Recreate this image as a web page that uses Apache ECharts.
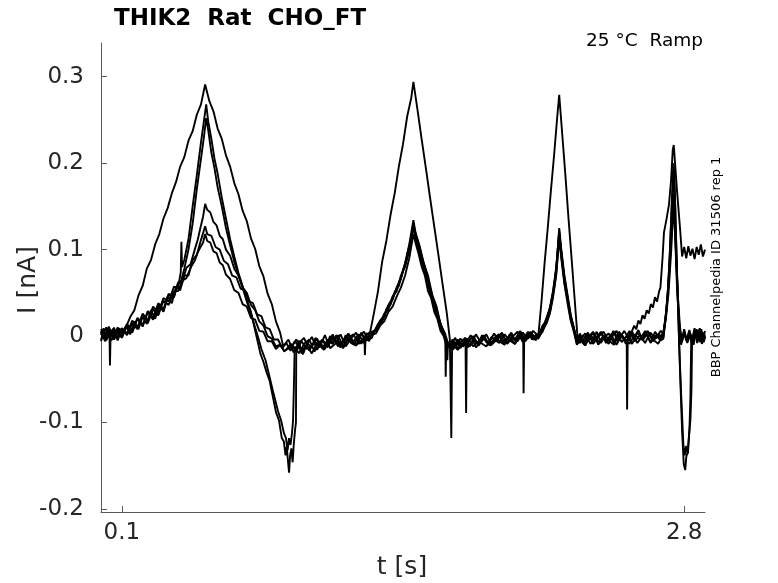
<!DOCTYPE html>
<html><head><meta charset="utf-8">
<script src="https://cdn.jsdelivr.net/npm/echarts@6/dist/echarts.min.js"></script>
<style>html,body{margin:0;padding:0;background:#fff}#c{width:778px;height:583px}</style>
</head><body><div id="c"></div>
<script>
const xTicks = [0.1, 2.8];
const yTicks = [-0.2, -0.1, 0, 0.1, 0.2, 0.3];
const titleText = 'THIK2  Rat  CHO_FT';
const condText = '25 °C  Ramp';
const idText = 'BBP Channelpedia ID 31506 rep 1';

// [t (s), I (nA)] per sweep
const sweep1 = [[0,0.001],[0.0125,0.009],[0.025,-0.004],[0.0375,0.006],[0.05,0.0],[0.0625,0.01],[0.075,-0.003],[0.0875,0.005],[0.1,0.002],[0.12,0.01],[0.14,0.022],[0.16,0.03],[0.18,0.047],[0.2,0.058],[0.22,0.078],[0.24,0.088],[0.26,0.106],[0.28,0.118],[0.3,0.136],[0.32,0.148],[0.34,0.165],[0.36,0.178],[0.38,0.196],[0.4,0.207],[0.42,0.226],[0.44,0.237],[0.46,0.256],[0.48,0.268],[0.5,0.291],[0.52,0.272],[0.54,0.26],[0.56,0.24],[0.58,0.228],[0.6,0.209],[0.62,0.196],[0.64,0.177],[0.66,0.164],[0.68,0.145],[0.7,0.133],[0.72,0.113],[0.74,0.101],[0.76,0.081],[0.78,0.069],[0.8,0.049],[0.82,0.037],[0.84,0.017],[0.86,0.004],[0.875,-0.012],[0.9,-0.004],[0.925,-0.019],[0.95,-0.008],[0.975,-0.002],[1.0,-0.017],[1.025,-0.006],[1.05,-0.013],[1.075,0.001],[1.1,-0.014],[1.125,-0.009],[1.15,0.002],[1.175,-0.012],[1.2,-0.003],[1.225,0.004],[1.25,-0.009],[1.275,0.003],[1.29,0.002],[1.31,0.026],[1.33,0.052],[1.35,0.086],[1.37,0.11],[1.39,0.14],[1.41,0.165],[1.43,0.196],[1.45,0.222],[1.47,0.254],[1.49,0.276],[1.5,0.294],[1.52,0.261],[1.54,0.227],[1.56,0.194],[1.58,0.16],[1.6,0.127],[1.62,0.094],[1.64,0.06],[1.66,0.027],[1.675,-0.004],[1.682,-0.118],[1.686,-0.004],[1.7,-0.014],[1.725,-0.003],[1.75,-0.009],[1.775,0.001],[1.8,-0.013],[1.825,-0.006],[1.85,0.002],[1.875,-0.01],[1.9,-0.004],[1.925,0.004],[1.95,-0.008],[1.975,-0.001],[2.0,0.005],[2.025,-0.007],[2.05,0.003],[2.075,-0.004],[2.1,0.001],[2.115,0.04],[2.13,0.085],[2.145,0.125],[2.16,0.168],[2.175,0.208],[2.19,0.252],[2.2,0.279],[2.215,0.232],[2.23,0.185],[2.245,0.135],[2.26,0.088],[2.275,0.04],[2.29,-0.008],[2.3,0.003],[2.3125,-0.008],[2.3375,-0.002],[2.3625,0.005],[2.3875,-0.007],[2.4125,0.0],[2.4375,-0.009],[2.4625,0.004],[2.4875,-0.003],[2.5125,0.006],[2.5375,-0.005],[2.55,0.006],[2.56,0.012],[2.57,0.008],[2.58,0.018],[2.59,0.014],[2.6,0.024],[2.61,0.02],[2.62,0.03],[2.63,0.026],[2.64,0.037],[2.65,0.033],[2.66,0.045],[2.67,0.04],[2.68,0.052],[2.686,0.056],[2.696,0.09],[2.703,0.12],[2.715,0.135],[2.727,0.152],[2.737,0.18],[2.745,0.215],[2.75,0.221],[2.765,0.17],[2.78,0.125],[2.79,0.092],[2.8,0.103],[2.81,0.09],[2.82,0.104],[2.83,0.093],[2.84,0.101],[2.85,0.089],[2.86,0.103],[2.87,0.094],[2.88,0.106],[2.89,0.092],[2.9,0.1]];

const sweep2 = [[0,0.008],[0.025,-0.005],[0.05,0.007],[0.075,-0.002],[0.1,0.009],[0.125,0.003],[0.15,0.018],[0.175,0.01],[0.2,0.026],[0.225,0.018],[0.25,0.034],[0.275,0.027],[0.3,0.044],[0.325,0.04],[0.35,0.057],[0.37,0.056],[0.383,0.074],[0.386,0.109],[0.389,0.08],[0.4,0.088],[0.42,0.112],[0.44,0.15],[0.46,0.186],[0.48,0.224],[0.495,0.25],[0.505,0.268],[0.515,0.248],[0.53,0.228],[0.545,0.205],[0.56,0.188],[0.58,0.16],[0.6,0.136],[0.62,0.112],[0.64,0.092],[0.66,0.073],[0.68,0.058],[0.7,0.042],[0.72,0.028],[0.735,0.012],[0.75,-0.004],[0.765,-0.02],[0.78,-0.03],[0.795,-0.042],[0.81,-0.052],[0.825,-0.07],[0.84,-0.088],[0.855,-0.098],[0.868,-0.118],[0.878,-0.122],[0.886,-0.138],[0.892,-0.128],[0.899,-0.148],[0.903,-0.158],[0.908,-0.138],[0.914,-0.13],[0.92,-0.146],[0.926,-0.124],[0.932,-0.108],[0.936,-0.1],[0.9375,-0.016],[0.95,-0.005],[0.9625,-0.02],[0.9875,-0.01],[1.0125,-0.001],[1.0375,-0.016],[1.0625,-0.004],[1.0875,-0.011],[1.1125,0.002],[1.1375,-0.012],[1.1625,-0.006],[1.1875,0.003],[1.2125,-0.01],[1.2375,-0.001],[1.2625,0.005],[1.2875,-0.006],[1.3,0.005],[1.32,0.006],[1.34,0.017],[1.36,0.022],[1.38,0.035],[1.4,0.042],[1.42,0.056],[1.44,0.066],[1.46,0.084],[1.48,0.106],[1.5,0.134],[1.51,0.12],[1.525,0.108],[1.54,0.092],[1.555,0.08],[1.57,0.064],[1.585,0.05],[1.6,0.038],[1.615,0.025],[1.63,0.015],[1.645,0.002],[1.653,-0.004],[1.655,-0.047],[1.658,-0.008],[1.6625,-0.008],[1.6875,-0.015],[1.7125,-0.004],[1.7375,-0.012],[1.7625,-0.007],[1.7875,0.0],[1.8125,-0.011],[1.8375,-0.003],[1.8625,-0.008],[1.8875,0.003],[1.9125,-0.006],[1.9375,-0.01],[1.9625,0.002],[1.9875,-0.004],[2.0125,0.006],[2.0375,-0.005],[2.0625,0.001],[2.0875,-0.003],[2.1,0.0],[2.12,0.009],[2.14,0.02],[2.155,0.03],[2.17,0.05],[2.185,0.075],[2.2,0.122],[2.21,0.096],[2.225,0.068],[2.24,0.044],[2.255,0.024],[2.27,0.008],[2.285,-0.004],[2.3,0.002],[2.3125,-0.006],[2.3375,0.004],[2.3625,-0.009],[2.3875,-0.001],[2.4125,0.005],[2.4375,-0.005],[2.4625,-0.01],[2.4875,0.002],[2.5125,-0.004],[2.5375,0.006],[2.5625,-0.006],[2.5875,0.001],[2.6125,-0.008],[2.6375,0.004],[2.6625,-0.003],[2.6875,0.006],[2.7,0.003],[2.71,0.02],[2.72,0.045],[2.73,0.09],[2.74,0.15],[2.748,0.2],[2.753,0.188],[2.76,0.12],[2.77,0.04],[2.78,-0.04],[2.79,-0.11],[2.798,-0.148],[2.805,-0.155],[2.81,-0.14],[2.817,-0.134],[2.823,-0.115],[2.83,-0.097],[2.835,-0.062],[2.838,-0.004],[2.85,0.009],[2.8625,-0.008],[2.875,0.004],[2.8875,-0.006],[2.9,0.006]];

const sweep3 = [[0,-0.004],[0.025,0.01],[0.05,-0.005],[0.075,0.008],[0.1,-0.002],[0.125,0.012],[0.15,0.004],[0.175,0.02],[0.2,0.011],[0.225,0.028],[0.25,0.019],[0.275,0.036],[0.3,0.029],[0.325,0.048],[0.35,0.045],[0.37,0.062],[0.385,0.064],[0.4,0.078],[0.42,0.1],[0.44,0.13],[0.46,0.17],[0.48,0.205],[0.495,0.232],[0.505,0.252],[0.515,0.238],[0.53,0.212],[0.545,0.194],[0.56,0.172],[0.58,0.15],[0.6,0.125],[0.62,0.105],[0.64,0.086],[0.66,0.07],[0.68,0.056],[0.7,0.04],[0.72,0.026],[0.74,0.01],[0.755,-0.002],[0.77,-0.015],[0.79,-0.028],[0.81,-0.048],[0.83,-0.068],[0.85,-0.087],[0.865,-0.098],[0.878,-0.112],[0.888,-0.118],[0.896,-0.132],[0.903,-0.118],[0.91,-0.126],[0.917,-0.112],[0.922,-0.098],[0.926,-0.06],[0.93,-0.012],[0.95,-0.02],[0.975,-0.009],[1.0,-0.004],[1.025,-0.018],[1.05,-0.007],[1.075,-0.015],[1.1,0.0],[1.125,-0.006],[1.15,-0.013],[1.175,0.001],[1.2,-0.008],[1.225,-0.011],[1.25,0.003],[1.275,-0.005],[1.3,-0.002],[1.32,0.009],[1.34,0.013],[1.36,0.026],[1.38,0.031],[1.4,0.046],[1.42,0.052],[1.44,0.07],[1.46,0.08],[1.48,0.1],[1.5,0.126],[1.51,0.114],[1.525,0.1],[1.54,0.086],[1.555,0.074],[1.57,0.058],[1.585,0.047],[1.6,0.032],[1.615,0.022],[1.63,0.009],[1.645,0.002],[1.66,-0.009],[1.663,-0.028],[1.666,-0.007],[1.68,-0.012],[1.7,-0.002],[1.725,-0.014],[1.75,-0.006],[1.775,-0.01],[1.8,0.002],[1.825,-0.008],[1.85,-0.012],[1.875,-0.001],[1.9,-0.006],[1.925,0.003],[1.95,-0.009],[1.975,-0.002],[2.0,-0.006],[2.025,0.004],[2.05,-0.003],[2.075,0.006],[2.1,0.0],[2.12,0.005],[2.14,0.019],[2.155,0.027],[2.17,0.048],[2.185,0.07],[2.2,0.116],[2.21,0.093],[2.225,0.062],[2.24,0.042],[2.255,0.02],[2.27,0.008],[2.285,-0.009],[2.3,-0.002],[2.325,-0.011],[2.35,0.001],[2.375,-0.005],[2.4,0.004],[2.425,-0.008],[2.45,-0.001],[2.475,0.006],[2.5,-0.007],[2.525,0.0],[2.55,-0.009],[2.575,0.004],[2.6,-0.003],[2.625,0.005],[2.65,-0.006],[2.675,0.002],[2.7,-0.002],[2.712,0.022],[2.722,0.05],[2.732,0.1],[2.742,0.16],[2.75,0.185],[2.757,0.15],[2.766,0.07],[2.776,-0.01],[2.786,-0.07],[2.796,-0.125],[2.803,-0.138],[2.81,-0.127],[2.818,-0.136],[2.825,-0.11],[2.83,-0.07],[2.834,-0.002],[2.845,-0.01],[2.857,0.006],[2.87,-0.005],[2.882,0.008],[2.895,-0.007],[2.9,0.0]];

const sweep4 = [[0,0.006],[0.0125,-0.003],[0.0375,0.011],[0.0625,-0.004],[0.0875,0.009],[0.1,0.003],[0.125,0.014],[0.15,0.006],[0.175,0.021],[0.2,0.013],[0.225,0.029],[0.25,0.021],[0.275,0.038],[0.3,0.031],[0.325,0.049],[0.35,0.045],[0.37,0.061],[0.39,0.062],[0.41,0.079],[0.43,0.083],[0.45,0.1],[0.465,0.112],[0.48,0.128],[0.49,0.138],[0.5,0.153],[0.51,0.146],[0.525,0.143],[0.54,0.132],[0.555,0.128],[0.57,0.116],[0.585,0.112],[0.6,0.1],[0.62,0.093],[0.64,0.078],[0.66,0.07],[0.68,0.056],[0.7,0.05],[0.72,0.036],[0.74,0.03],[0.76,0.017],[0.78,0.012],[0.8,0.0],[0.82,-0.003],[0.84,-0.012],[0.86,-0.01],[0.88,-0.018],[0.9125,-0.009],[0.9375,-0.018],[0.9625,-0.006],[0.9875,-0.015],[1.0125,-0.011],[1.0375,-0.003],[1.0625,-0.014],[1.0875,-0.005],[1.1125,-0.009],[1.1375,0.001],[1.1625,-0.012],[1.1875,-0.002],[1.2125,0.002],[1.2375,-0.009],[1.2625,-0.002],[1.2875,0.004],[1.3,0.004],[1.32,0.008],[1.34,0.018],[1.36,0.024],[1.38,0.036],[1.4,0.044],[1.42,0.056],[1.44,0.068],[1.46,0.084],[1.48,0.104],[1.5,0.128],[1.51,0.118],[1.525,0.106],[1.54,0.09],[1.555,0.08],[1.57,0.062],[1.585,0.052],[1.6,0.036],[1.615,0.028],[1.63,0.013],[1.645,0.005],[1.66,-0.008],[1.675,-0.01],[1.69,-0.016],[1.7125,-0.006],[1.7375,-0.011],[1.75,-0.003],[1.753,-0.089],[1.756,-0.006],[1.7625,-0.013],[1.7875,-0.004],[1.8125,-0.008],[1.8375,0.001],[1.8625,-0.01],[1.8875,-0.005],[1.9125,0.002],[1.9375,-0.007],[1.9625,-0.001],[1.9875,-0.009],[2.0125,0.003],[2.0375,-0.003],[2.0625,0.005],[2.0875,-0.005],[2.1,0.003],[2.12,0.008],[2.14,0.022],[2.155,0.032],[2.17,0.052],[2.185,0.078],[2.2,0.12],[2.21,0.098],[2.225,0.065],[2.24,0.045],[2.255,0.022],[2.27,0.01],[2.285,-0.006],[2.3,-0.008],[2.3125,0.001],[2.3375,-0.006],[2.3625,0.004],[2.3875,-0.01],[2.4125,-0.002],[2.4375,0.003],[2.4625,-0.008],[2.4875,0.005],[2.5125,-0.003],[2.5375,-0.009],[2.5625,0.002],[2.5875,-0.004],[2.6125,0.006],[2.6375,-0.007],[2.6625,0.001],[2.6875,-0.005],[2.7,-0.003],[2.712,0.025],[2.725,0.06],[2.738,0.12],[2.748,0.165],[2.756,0.13],[2.765,0.07],[2.775,0.02],[2.785,-0.008],[2.8,0.008],[2.8125,-0.006],[2.825,0.003],[2.8375,-0.009],[2.85,0.005],[2.8625,-0.003],[2.875,0.009],[2.8875,-0.006],[2.9,0.002]];

const sweep5 = [[0,0.005],[0.02,-0.006],[0.04,0.008],[0.06,-0.004],[0.08,0.01],[0.1,-0.002],[0.12,0.012],[0.14,0.002],[0.16,0.017],[0.18,0.008],[0.2,0.024],[0.22,0.014],[0.24,0.03],[0.26,0.02],[0.28,0.037],[0.3,0.028],[0.32,0.046],[0.34,0.038],[0.36,0.057],[0.38,0.053],[0.4,0.07],[0.42,0.07],[0.44,0.088],[0.46,0.094],[0.48,0.111],[0.5,0.127],[0.51,0.118],[0.53,0.116],[0.55,0.103],[0.57,0.1],[0.59,0.087],[0.61,0.083],[0.63,0.07],[0.65,0.068],[0.67,0.055],[0.69,0.053],[0.71,0.04],[0.73,0.038],[0.75,0.025],[0.77,0.023],[0.79,0.01],[0.81,0.008],[0.83,-0.004],[0.85,-0.004],[0.87,-0.014],[0.89,-0.008],[0.91,-0.017],[0.93,-0.006],[0.95,-0.012],[0.97,-0.021],[0.99,-0.008],[1.01,-0.013],[1.03,-0.002],[1.05,-0.01],[1.07,-0.016],[1.09,-0.004],[1.11,-0.008],[1.13,0.001],[1.15,-0.011],[1.17,-0.005],[1.19,0.002],[1.21,-0.006],[1.23,-0.01],[1.25,0.004],[1.265,-0.004],[1.267,-0.022],[1.27,-0.004],[1.29,0.002],[1.31,0.004],[1.33,0.014],[1.35,0.016],[1.37,0.031],[1.39,0.036],[1.41,0.051],[1.43,0.058],[1.45,0.076],[1.47,0.09],[1.49,0.112],[1.5,0.13],[1.51,0.116],[1.53,0.104],[1.55,0.084],[1.57,0.07],[1.59,0.048],[1.61,0.035],[1.63,0.014],[1.65,0.004],[1.67,-0.011],[1.69,-0.004],[1.71,-0.015],[1.73,-0.006],[1.75,-0.002],[1.77,-0.012],[1.79,-0.005],[1.81,-0.009],[1.83,0.001],[1.85,-0.007],[1.87,-0.011],[1.89,-0.002],[1.91,0.002],[1.93,-0.008],[1.95,-0.003],[1.97,0.004],[1.99,-0.006],[2.01,0.001],[2.027,-0.002],[2.029,-0.066],[2.032,-0.002],[2.05,0.005],[2.07,-0.004],[2.09,0.002],[2.1,0.0],[2.12,0.012],[2.14,0.018],[2.16,0.038],[2.175,0.055],[2.19,0.09],[2.2,0.125],[2.21,0.1],[2.225,0.07],[2.24,0.048],[2.255,0.025],[2.27,0.01],[2.285,-0.008],[2.3,-0.003],[2.32,-0.01],[2.34,0.002],[2.36,-0.005],[2.38,0.005],[2.4,-0.008],[2.42,0.0],[2.44,-0.004],[2.46,0.006],[2.48,-0.006],[2.5,0.002],[2.52,-0.009],[2.54,0.004],[2.56,-0.002],[2.58,0.007],[2.6,-0.005],[2.62,0.002],[2.64,-0.008],[2.66,0.005],[2.68,-0.002],[2.7,0.004],[2.715,0.03],[2.73,0.08],[2.745,0.14],[2.752,0.15],[2.76,0.1],[2.77,0.045],[2.78,0.01],[2.79,-0.006],[2.8,0.006],[2.815,-0.008],[2.83,0.002],[2.845,-0.004],[2.86,0.008],[2.875,-0.007],[2.89,0.004],[2.9,-0.003]];

const sweep6 = [[0,-0.006],[0.0125,0.005],[0.025,0.001],[0.041,-0.002],[0.043,-0.034],[0.046,0.001],[0.06,0.009],[0.08,-0.005],[0.1,0.008],[0.125,0.001],[0.15,0.015],[0.175,0.008],[0.2,0.022],[0.225,0.015],[0.25,0.031],[0.275,0.024],[0.3,0.041],[0.325,0.036],[0.35,0.052],[0.37,0.052],[0.39,0.064],[0.41,0.067],[0.43,0.079],[0.45,0.087],[0.465,0.097],[0.48,0.104],[0.49,0.108],[0.5,0.118],[0.51,0.11],[0.525,0.108],[0.54,0.098],[0.555,0.096],[0.57,0.085],[0.585,0.082],[0.6,0.071],[0.62,0.066],[0.64,0.053],[0.66,0.05],[0.68,0.037],[0.7,0.034],[0.72,0.021],[0.74,0.019],[0.76,0.006],[0.78,0.005],[0.8,-0.006],[0.82,-0.006],[0.84,-0.015],[0.86,-0.01],[0.88,-0.017],[0.9125,-0.013],[0.9375,-0.004],[0.9625,-0.016],[0.9875,-0.011],[1.0125,-0.02],[1.0375,-0.008],[1.0625,-0.005],[1.0875,-0.013],[1.1125,-0.002],[1.1375,-0.007],[1.1625,-0.014],[1.1875,-0.003],[1.2125,-0.006],[1.2375,0.002],[1.2625,-0.008],[1.2875,0.0],[1.3,0.002],[1.32,0.003],[1.34,0.012],[1.36,0.017],[1.38,0.028],[1.4,0.034],[1.42,0.046],[1.44,0.056],[1.46,0.07],[1.48,0.09],[1.5,0.118],[1.51,0.108],[1.525,0.095],[1.54,0.08],[1.555,0.07],[1.57,0.052],[1.585,0.044],[1.6,0.028],[1.615,0.02],[1.63,0.006],[1.645,0.0],[1.66,-0.012],[1.675,-0.013],[1.6875,-0.006],[1.7125,-0.016],[1.7375,-0.008],[1.7625,-0.003],[1.7875,-0.012],[1.8125,-0.006],[1.8375,0.0],[1.8625,-0.01],[1.8875,-0.004],[1.9125,-0.008],[1.9375,0.002],[1.9625,-0.005],[1.9875,-0.009],[2.0125,0.0],[2.0375,-0.006],[2.0625,0.004],[2.0875,-0.002],[2.1,-0.003],[2.12,0.006],[2.14,0.015],[2.155,0.026],[2.17,0.044],[2.185,0.07],[2.2,0.112],[2.21,0.09],[2.225,0.06],[2.24,0.038],[2.255,0.018],[2.27,0.005],[2.285,-0.01],[2.3,-0.004],[2.325,0.003],[2.35,-0.009],[2.375,-0.002],[2.4,0.005],[2.425,-0.006],[2.45,0.002],[2.475,-0.01],[2.5,0.001],[2.524,-0.006],[2.526,-0.085],[2.529,-0.004],[2.55,0.005],[2.575,-0.008],[2.6,0.0],[2.625,0.006],[2.65,-0.004],[2.675,-0.009],[2.7,0.003],[2.712,0.02],[2.725,0.05],[2.738,0.1],[2.748,0.15],[2.756,0.12],[2.765,0.06],[2.775,0.015],[2.785,-0.01],[2.8,0.003],[2.81,-0.005],[2.825,0.007],[2.84,-0.008],[2.855,0.001],[2.87,0.007],[2.885,-0.009],[2.9,-0.001]];

const sweeps = [sweep1, sweep2, sweep3, sweep4, sweep5, sweep6];

const chart = echarts.init(document.getElementById('c'), null, {renderer: 'canvas'});
const FONT = 'DejaVu Sans';
const axisColor = '#5a5a5a';
const labelColor = '#262626';
chart.setOption({
  animation: false,
  backgroundColor: '#fff',
  textStyle: {fontFamily: FONT},
  grid: {left: 101, top: 43, width: 604, height: 469, containLabel: false},
  xAxis: {
    type: 'value', min: 0, max: 2.9,
    axisLine: {show: true, onZero: false, lineStyle: {color: axisColor, width: 1}},
    axisTick: {show: true, inside: true, length: 6, customValues: xTicks, lineStyle: {color: axisColor}},
    axisLabel: {customValues: xTicks, fontSize: 23, color: labelColor, margin: 10, fontFamily: FONT},
    splitLine: {show: false}
  },
  yAxis: {
    type: 'value', min: -0.2035, max: 0.339,
    axisLine: {show: true, onZero: false, lineStyle: {color: axisColor, width: 1}},
    axisTick: {show: true, inside: true, length: 6, customValues: yTicks, lineStyle: {color: axisColor}},
    axisLabel: {customValues: yTicks, fontSize: 23, color: labelColor, margin: 17, fontFamily: FONT},
    splitLine: {show: false}
  },
  graphic: [
    {type: 'text', left: 114, top: 8, style: {text: titleText, font: 'bold 23px "DejaVu Sans"', fill: '#000'}},
    {type: 'text', right: 75, top: 32, style: {text: condText, font: '18.5px "DejaVu Sans"', fill: '#000'}},
    {type: 'text', x: 717, y: 267, rotation: Math.PI / 2, style: {text: idText, font: '13px "DejaVu Sans"', fill: '#000', align: 'center', verticalAlign: 'middle'}},
    {type: 'text', x: 28, y: 280, rotation: Math.PI / 2, style: {text: 'I [nA]', font: '25px "DejaVu Sans"', fill: labelColor, align: 'center', verticalAlign: 'middle'}},
    {type: 'text', x: 402, y: 567, style: {text: 't [s]', font: '25px "DejaVu Sans"', fill: labelColor, align: 'center', verticalAlign: 'middle'}}
  ],
  series: sweeps.map(function (d) {
    return {type: 'line', data: d, showSymbol: false, symbol: 'none', lineStyle: {color: '#000', width: 1.9}, silent: true};
  })
});
</script>
</body></html>
